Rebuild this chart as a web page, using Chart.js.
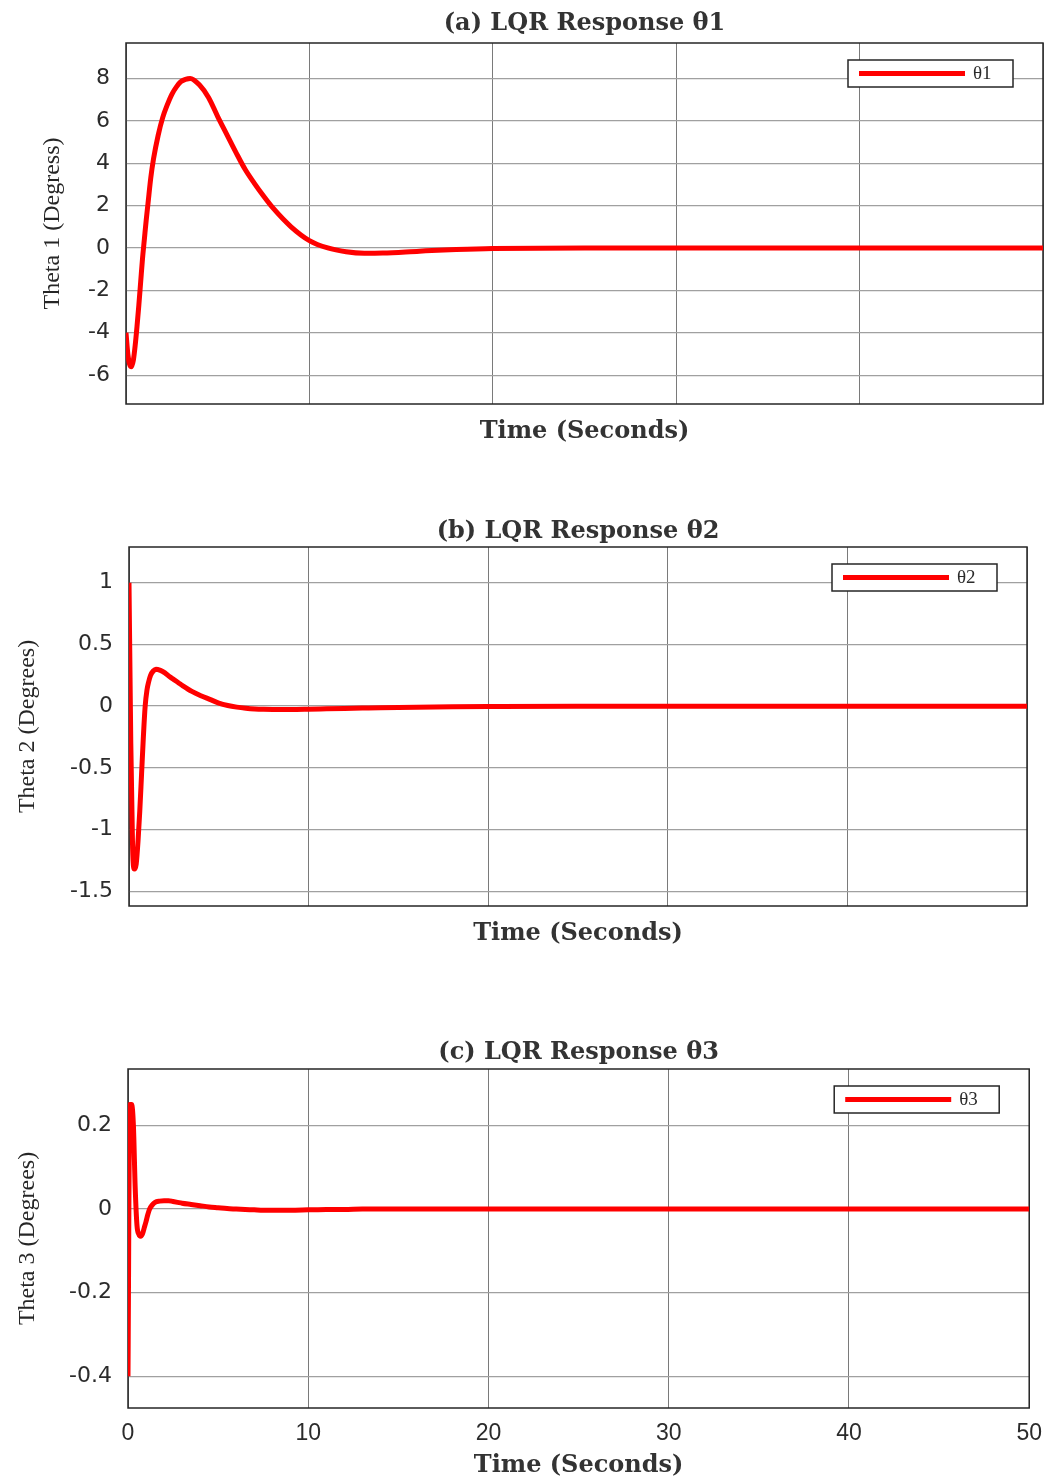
<!DOCTYPE html>
<html>
<head>
<meta charset="utf-8">
<title>LQR Response</title>
<script src="https://cdn.jsdelivr.net/npm/chart.js@4.4.1/dist/chart.umd.min.js"></script>
<style>
  body { margin: 0; background: #fff; width: 1054px; height: 1478px; position: relative; overflow: hidden; }
  canvas { position: absolute; left: 0; }
</style>
</head>
<body>
<canvas id="chart1" width="1054" height="460" style="top:0px;width:1054px;height:460px"></canvas>
<canvas id="chart2" width="1054" height="460" style="top:500px;width:1054px;height:460px"></canvas>
<canvas id="chart3" width="1054" height="478" style="top:1000px;width:1054px;height:478px"></canvas>
<script>
// sample times (seconds), shared by the three responses
const timeSec = [0, 0.1, 0.2, 0.3, 0.4, 0.5, 0.6, 0.7, 0.8, 0.9, 1.0, 1.1, 1.2, 1.35, 1.5, 1.75, 2.0, 2.25, 2.5, 2.75,
  3.0, 3.5, 4.0, 4.5, 5.0, 5.5, 6, 6.5, 7, 7.5, 8, 9, 10, 11, 12, 13, 14, 16, 18, 20, 25, 30, 40, 50];

// angles (degrees)
const theta1 = [-4.0, -5.0, -5.5, -5.6, -5.3, -4.6, -3.7, -2.7, -1.6, -0.5, 0.4, 1.3, 2.1, 3.3, 4.2, 5.3, 6.15, 6.75, 7.25, 7.6,
  7.85, 8.0, 7.7, 7.1, 6.2, 5.35, 4.5, 3.7, 3.05, 2.45, 1.9, 1.0, 0.35, 0.0, -0.18, -0.25, -0.24, -0.15, -0.07, -0.02, 0, 0, 0, 0];
const theta2 = [1.0, -0.3, -1.15, -1.32, -1.28, -1.1, -0.85, -0.55, -0.25, 0.0, 0.13, 0.2, 0.25, 0.285, 0.3, 0.29, 0.27, 0.24, 0.215, 0.19,
  0.165, 0.12, 0.085, 0.055, 0.025, 0.005, -0.008, -0.017, -0.023, -0.026, -0.027, -0.027, -0.025, -0.022, -0.019, -0.016, -0.013, -0.008, -0.005, -0.003, 0, 0, 0, 0];
const theta3 = [-0.4, 0.25, 0.25, 0.2, 0.05, -0.04, -0.06, -0.065, -0.06, -0.045, -0.03, -0.013, 0.0, 0.01, 0.016, 0.019, 0.02, 0.02, 0.018, 0.016,
  0.014, 0.011, 0.008, 0.005, 0.003, 0.001, 0.0, -0.001, -0.002, -0.003, -0.003, -0.003, -0.002, -0.001, -0.001, 0, 0, 0, 0, 0, 0, 0, 0, 0];

const xTicks = [0, 10, 20, 30, 40, 50];
const yTicks1 = [-6, -4, -2, 0, 2, 4, 6, 8];
const yTicks2 = [-1.5, -1, -0.5, 0, 0.5, 1];
const yTicks3 = [-0.4, -0.2, 0, 0.2];

const textColor = '#2b2b2b';

// box around the plot area plus the small legend in the top right corner
const boxPlugin = {
  id: 'lqrBox',
  beforeDatasetsDraw(chart) {
    const { ctx, chartArea: a } = chart;
    ctx.save();
    ctx.strokeStyle = '#262626';
    ctx.lineWidth = 1.5;
    ctx.strokeRect(a.left, a.top, a.right - a.left, a.bottom - a.top);
    ctx.restore();
  },
  afterDatasetsDraw(chart) {
    const { ctx, chartArea: a } = chart;
    const ds = chart.data.datasets[0];
    const w = 165, h = 27;
    const bx = a.right - 30 - w, by = a.top + 17;
    ctx.save();
    ctx.fillStyle = '#fff';
    ctx.fillRect(bx, by, w, h);
    ctx.strokeStyle = '#262626';
    ctx.lineWidth = 1.5;
    ctx.strokeRect(bx, by, w, h);
    ctx.strokeStyle = ds.borderColor;
    ctx.lineWidth = 5;
    ctx.beginPath();
    ctx.moveTo(bx + 11, by + h / 2);
    ctx.lineTo(bx + 117, by + h / 2);
    ctx.stroke();
    ctx.fillStyle = textColor;
    ctx.font = '19px "Liberation Serif"';
    ctx.textBaseline = 'middle';
    ctx.fillText(ds.label, bx + 125, by + h / 2 + 1);
    ctx.restore();
  }
};

function makeChart(id, opts) {
  const ctx = document.getElementById(id).getContext('2d');
  return new Chart(ctx, {
    type: 'line',
    data: {
      datasets: [{
        label: opts.label,
        data: opts.values.map((v, i) => ({ x: timeSec[i], y: v })),
        borderColor: '#ff0000',
        borderWidth: 5,
        pointRadius: 0,
        cubicInterpolationMode: 'monotone',
        fill: false
      }]
    },
    options: {
      responsive: false,
      animation: false,
      layout: { padding: { left: 0, right: opts.padRight, top: 0, bottom: 0 } },
      plugins: {
        legend: { display: false },
        tooltip: { enabled: false },
        title: {
          display: true,
          text: opts.title,
          fullSize: false,
          color: '#333',
          font: { family: 'DejaVu Serif', size: 24, weight: 'bold', lineHeight: 1 },
          padding: { top: opts.titleTop, bottom: opts.titleBottom }
        }
      },
      scales: {
        x: {
          type: 'linear',
          min: 0,
          max: 50,
          afterBuildTicks: s => { s.ticks = xTicks.map(v => ({ value: v })); },
          afterFit: s => { s.height = opts.xHeight; },
          border: { display: false },
          grid: { color: '#7a7a7a', lineWidth: 1, drawTicks: false },
          ticks: {
            display: opts.showX,
            padding: 12,
            color: textColor,
            font: { family: 'Liberation Sans', size: 23 }
          },
          title: {
            display: true,
            text: 'Time (Seconds)',
            color: '#333',
            font: { family: 'DejaVu Serif', size: 24, weight: 'bold', lineHeight: 1 },
            padding: { top: 0, bottom: opts.xTitlePad }
          }
        },
        y: {
          min: opts.yMin,
          max: opts.yMax,
          afterBuildTicks: s => { s.ticks = opts.yTicks.map(v => ({ value: v })); },
          afterFit: s => { s.width = opts.yWidth; },
          border: { display: false },
          grid: { color: '#a0a0a0', lineWidth: 1.3, drawTicks: false },
          ticks: {
            padding: 16,
            color: textColor,
            font: { family: 'DejaVu Sans', size: 22 },
            callback: v => String(v)
          },
          title: {
            display: true,
            text: opts.yTitle,
            color: '#262626',
            font: { family: 'Liberation Serif', size: 24, lineHeight: 1.2 },
            padding: { top: opts.yTitlePad, bottom: 0 }
          }
        }
      }
    },
    plugins: [boxPlugin]
  });
}

makeChart('chart1', {
  label: 'θ1', values: theta1, title: '(a) LQR Response θ1', yTitle: 'Theta 1 (Degress)',
  yMin: -7.36, yMax: 9.67, yTicks: yTicks1,
  yWidth: 126, xHeight: 56, padRight: 11,
  titleTop: 12, titleBottom: 7, xTitlePad: 16, yTitlePad: 38, showX: false
});

makeChart('chart2', {
  label: 'θ2', values: theta2, title: '(b) LQR Response θ2', yTitle: 'Theta 2 (Degrees)',
  yMin: -1.62, yMax: 1.29, yTicks: yTicks2,
  yWidth: 129, xHeight: 54, padRight: 27,
  titleTop: 20, titleBottom: 3, xTitlePad: 14, yTitlePad: 13, showX: false
});

makeChart('chart3', {
  label: 'θ3', values: theta3, title: '(c) LQR Response θ3', yTitle: 'Theta 3 (Degrees)',
  yMin: -0.476, yMax: 0.335, yTicks: yTicks3,
  yWidth: 128, xHeight: 70, padRight: 24,
  titleTop: 41, titleBottom: 4, xTitlePad: 0, yTitlePad: 13, showX: true
});
</script>
</body>
</html>
